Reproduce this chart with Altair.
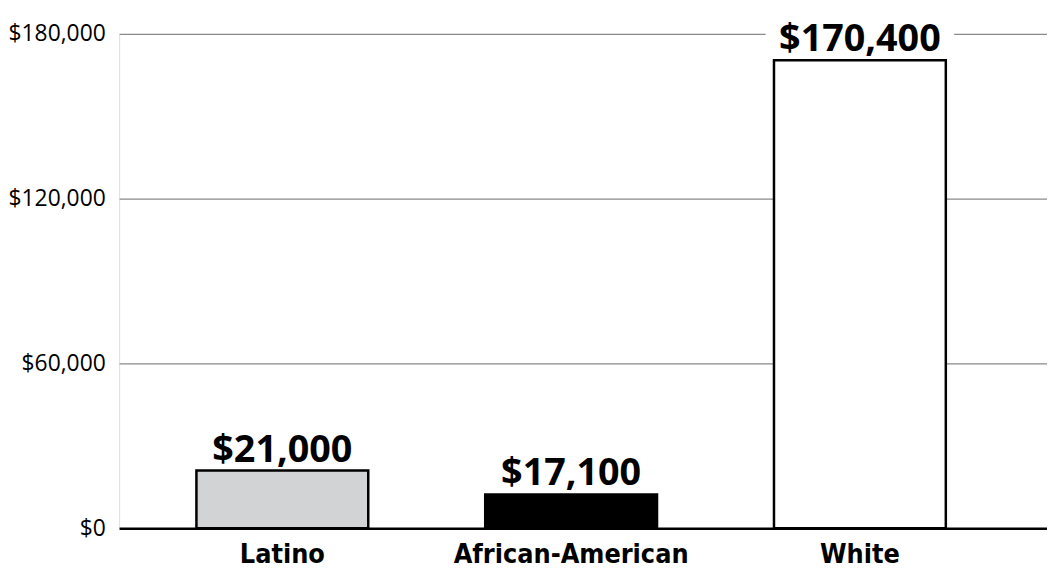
import altair as alt
import pandas as pd

categories = ["Latino", "African-American", "White"]
bar_heights = [21000, 12300, 170400]          # bar heights as drawn in the picture
label_texts = ["$21,000", "$17,100", "$170,400"]  # printed value labels
fill_colors = ["#d1d3d4", "#000000", "#ffffff"]
y_ticks = [0, 60000, 120000, 180000]

df = pd.DataFrame({
    "group": categories,
    "height": bar_heights,
    "label": label_texts,
    "fill": fill_colors,
})

x_enc = alt.X(
    "group:N",
    sort=categories,
    scale=alt.Scale(paddingInner=0.405, paddingOuter=0.309, align=0.433),
    axis=alt.Axis(
        title=None, labelAngle=0, ticks=False, domain=True,
        domainColor="#000000", domainWidth=2.5,
        labelFont="DejaVu Sans Condensed",
        labelFontWeight="bold", labelFontSize=27, labelColor="#000000",
        labelPadding=14, labelLimit=0, grid=False,
    ),
)

y_scale = alt.Scale(domain=[0, 180000], nice=False, zero=True)

bars = alt.Chart(df).mark_bar(stroke="#000000", strokeWidth=2.5).encode(
    x=x_enc,
    y=alt.Y(
        "height:Q",
        scale=y_scale,
        axis=alt.Axis(
            title=None, values=y_ticks, format="$,.0f", domain=False, ticks=False,
            grid=True, gridColor="#8a8a8a", gridWidth=1.2,
            labelFont="Open Sans", labelFontSize=23, labelColor="#000000",
            labelPadding=14,
        ),
    ),
    fill=alt.Fill("fill:N", scale=None),
)

mask = alt.Chart(df).transform_filter(
    alt.datum.group == "White"
).mark_bar(color="#ffffff", size=190).encode(
    x=alt.X("group:N", sort=categories),
    y=alt.datum(176000),
    y2=alt.datum(184000),
)

labels = alt.Chart(df).transform_calculate(
    label_y="min(datum.height, 172000)"
).mark_text(
    font="Open Sans", fontWeight="bold", fontSize=38, color="#000000",
    baseline="alphabetic", dy=-9,
).encode(
    x=alt.X("group:N", sort=categories),
    y=alt.Y("label_y:Q", scale=y_scale),
    text="label:N",
)

chart = alt.layer(bars, mask, labels).properties(
    width=935, height=498,
    autosize=alt.AutoSizeParams(type="none"),
    padding={"left": 112, "top": 24, "right": 0, "bottom": 40},
).configure_view(stroke=None).configure(background="#ffffff")

chart.save("out.html", embed_options={"renderer": "svg", "actions": False})
